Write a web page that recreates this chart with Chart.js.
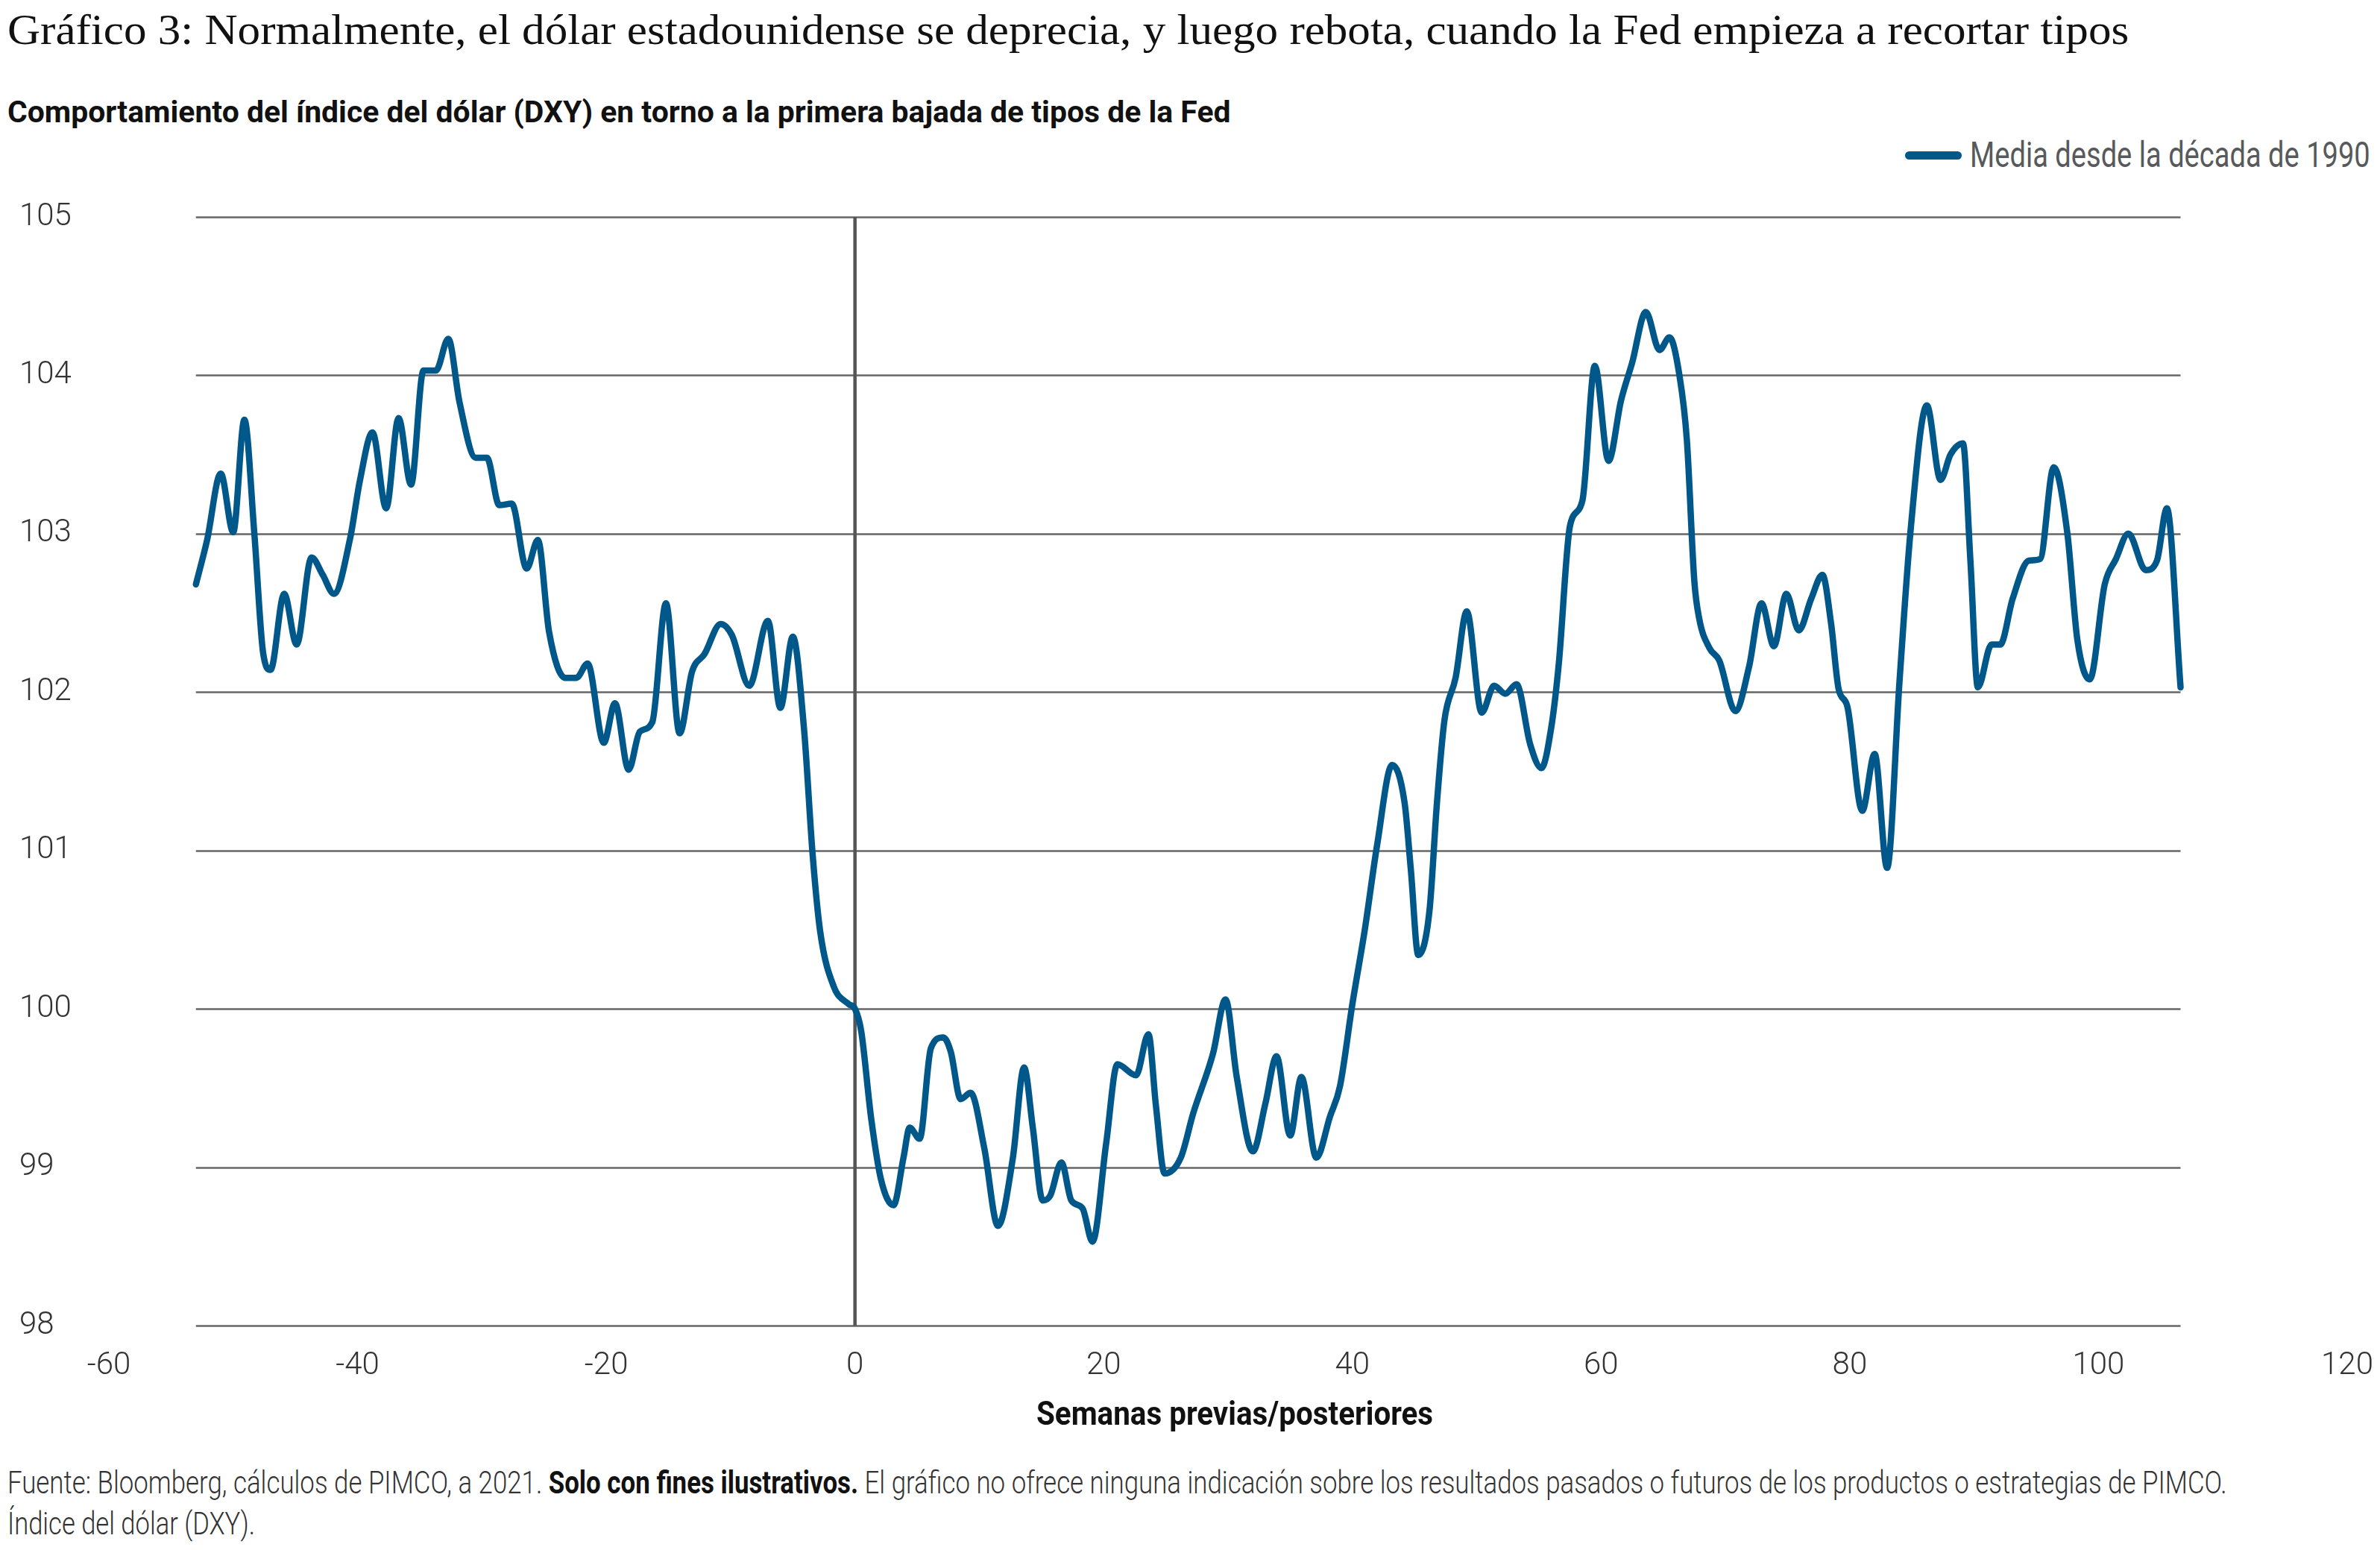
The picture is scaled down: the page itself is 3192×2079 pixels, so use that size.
<!DOCTYPE html>
<html>
<head>
<meta charset="utf-8">
<script src="https://cdn.jsdelivr.net/npm/chart.js@4.4.1/dist/chart.umd.min.js"></script>
<style>
  html, body { margin: 0; padding: 0; background: #fff; }
  #page { position: relative; width: 3192px; height: 2079px; overflow: hidden; }
  .txt { position: absolute; white-space: nowrap; transform-origin: left center; }
  #title { left: 10px; top: 8px; font: 400 56px/64px "Liberation Serif", serif; color: #111; }
  #subtitle { left: 10px; top: 127px; font: 700 40px/48px Roboto, sans-serif; color: #111; }
  #legendLine { position: absolute; left: 2555px; top: 203px; width: 76px; height: 11px; border-radius: 6px; background: #00578a; }
  #legendText { left: 2642px; top: 180px; font: 400 48px/56px Roboto, sans-serif; color: #58595b; }
  #xtitle { top: 1870px; font: 700 44px/52px Roboto, sans-serif; color: #111; transform-origin: center center; }
  #foot1 { left: 10px; top: 1964px; font: 300 42px/50px Roboto, sans-serif; color: #333; }
  #foot2 { left: 10px; top: 2019px; font: 300 42px/50px Roboto, sans-serif; color: #333; }
  #foot1 b { font-weight: 700; color: #111; }
  #chartBox { position: absolute; left: 0; top: 240px; width: 3192px; height: 1640px; }
</style>
</head>
<body>
<div id="page">
  <div id="title" class="txt">Gráfico 3: Normalmente, el dólar estadounidense se deprecia, y luego rebota, cuando la Fed empieza a recortar tipos</div>
  <div id="subtitle" class="txt">Comportamiento del índice del dólar (DXY) en torno a la primera bajada de tipos de la Fed</div>
  <div id="legendLine"></div>
  <div id="legendText" class="txt">Media desde la década de 1990</div>
  <div id="chartBox"><canvas id="chart" width="3192" height="1640"></canvas></div>
  <div id="xtitle" class="txt">Semanas previas/posteriores</div>
  <div id="foot1" class="txt">Fuente: Bloomberg, cálculos de PIMCO, a 2021. <b>Solo con fines ilustrativos.</b> El gráfico no ofrece ninguna indicación sobre los resultados pasados o futuros de los productos o estrategias de PIMCO.</div>
  <div id="foot2" class="txt">Índice del dólar (DXY).</div>
</div>
<script>
// weeks before/after the first Fed cut, and the average DXY level
const weeks = [
  -53.0, -52.1, -51.0, -50.0, -49.1, -48.3, -47.6, -47.0, -45.9, -44.9,
  -43.7, -42.8, -41.9, -40.6, -39.8, -38.8, -37.7, -36.7, -35.7, -34.7,
  -33.7, -32.7, -31.8, -30.5, -29.6, -28.6, -27.6, -26.4, -25.5, -24.6,
  -23.3, -22.4, -21.5, -20.2, -19.3, -18.2, -17.3, -16.3, -15.2, -14.1,
  -13.1, -12.1, -10.8, -9.9, -8.5, -7.0, -6.0, -5.0, -4.1, -3.4,
  -2.8, -1.7, -0.5, 0.0, 0.5, 1.3, 2.1, 3.1, 3.9, 4.4,
  5.2, 6.1, 7.1, 7.7, 8.5, 9.3, 10.4, 11.5, 12.7, 13.6,
  14.3, 15.1, 15.7, 16.6, 17.4, 18.3, 19.1, 20.2, 21.1, 22.6,
  23.6, 24.2, 24.9, 26.2, 27.2, 28.8, 29.8, 30.7, 32.0, 33.0,
  33.9, 35.0, 35.9, 37.1, 38.2, 39.0, 40.0, 41.0, 42.0, 43.2,
  44.2, 44.7, 45.3, 46.2, 46.8, 47.4, 48.3, 49.2, 50.4, 51.4,
  52.3, 53.2, 54.3, 55.2, 56.0, 56.6, 57.5, 58.5, 59.5, 60.6,
  61.6, 62.5, 63.6, 64.7, 65.5, 66.3, 66.9, 67.5, 67.9, 68.7,
  69.5, 70.8, 71.9, 72.9, 73.9, 74.9, 75.9, 76.9, 77.8, 78.5,
  79.1, 79.8, 81.0, 82.0, 83.0, 84.0, 84.9, 86.2, 87.3, 88.1,
  89.1, 89.7, 90.3, 91.4, 92.1, 93.1, 94.4, 95.3, 96.4, 97.5,
  98.3, 99.3, 100.5, 101.4, 102.4, 103.8, 104.7, 105.5, 106.6
];
const dxy = [
  102.68, 102.96, 103.38, 103.01, 103.72, 103.00, 102.25, 102.14, 102.62, 102.30,
  102.85, 102.74, 102.62, 102.97, 103.34, 103.64, 103.16, 103.73, 103.31, 104.03,
  104.03, 104.23, 103.83, 103.48, 103.48, 103.18, 103.19, 102.78, 102.96, 102.38,
  102.09, 102.09, 102.18, 101.68, 101.93, 101.51, 101.75, 101.81, 102.56, 101.74,
  102.13, 102.24, 102.43, 102.36, 102.04, 102.45, 101.90, 102.35, 101.77, 100.97,
  100.49, 100.14, 100.03, 100.00, 99.86, 99.31, 98.92, 98.76, 99.06, 99.25,
  99.18, 99.75, 99.82, 99.73, 99.43, 99.47, 99.12, 98.63, 99.06, 99.63,
  99.25, 98.79, 98.82, 99.03, 98.79, 98.74, 98.53, 99.15, 99.65, 99.58,
  99.84, 99.39, 98.96, 99.06, 99.34, 99.72, 100.06, 99.57, 99.10, 99.40,
  99.70, 99.20, 99.57, 99.06, 99.32, 99.51, 100.03, 100.50, 101.04, 101.54,
  101.30, 100.88, 100.34, 100.62, 101.30, 101.82, 102.09, 102.51, 101.87, 102.04,
  101.99, 102.05, 101.67, 101.52, 101.78, 102.18, 103.05, 103.21, 104.06, 103.46,
  103.84, 104.08, 104.40, 104.16, 104.24, 104.00, 103.59, 102.70, 102.46, 102.28,
  102.20, 101.88, 102.16, 102.56, 102.29, 102.62, 102.39, 102.59, 102.74, 102.43,
  102.02, 101.91, 101.25, 101.61, 100.89, 102.07, 103.03, 103.81, 103.34, 103.50,
  103.57, 102.83, 102.03, 102.30, 102.30, 102.59, 102.83, 102.84, 103.42, 103.00,
  102.33, 102.08, 102.68, 102.84, 103.00, 102.77, 102.83, 103.16, 102.03
];
const seriesLabel = "Media desde la década de 1990";
const lineColor = "#00578a";

// stretch/squeeze a text block to the width it has in the original
function fitWidth(id, target) {
  const el = document.getElementById(id);
  const w = el.scrollWidth;
  el.style.transform = `scaleX(${target / w})`;
}
fitWidth("title", 2845);
fitWidth("subtitle", 1640);
fitWidth("legendText", 537);
fitWidth("foot1", 2977);
fitWidth("foot2", 332);
(function () {
  const el = document.getElementById("xtitle");
  const w = el.scrollWidth;
  el.style.left = (1656 - w / 2) + "px";
  el.style.transform = `scaleX(${532 / w})`;
})();

// horizontal gridlines only across the data range, plus the x = 0 marker
const gridPlugin = {
  id: "dataGrid",
  beforeDatasetsDraw(chart) {
    const { ctx, scales } = chart;
    const x = scales.x, y = scales.y;
    const x0 = x.getPixelForValue(weeks[0]);
    const x1 = x.getPixelForValue(weeks[weeks.length - 1]);
    ctx.save();
    ctx.strokeStyle = "#666";
    ctx.lineWidth = 2.5;
    y.ticks.forEach((t) => {
      const py = Math.round(y.getPixelForValue(t.value)) + 0.5;
      ctx.beginPath();
      ctx.moveTo(x0, py);
      ctx.lineTo(x1, py);
      ctx.stroke();
    });
    const zx = x.getPixelForValue(0);
    ctx.strokeStyle = "#555";
    ctx.lineWidth = 4.5;
    ctx.beginPath();
    ctx.moveTo(zx, y.getPixelForValue(105));
    ctx.lineTo(zx, y.getPixelForValue(98));
    ctx.stroke();
    ctx.restore();
  },
};

const points = weeks.map((w, i) => ({ x: w, y: dxy[i] }));

new Chart(document.getElementById("chart"), {
  type: "line",
  data: {
    datasets: [
      {
        label: seriesLabel,
        data: points,
        borderColor: lineColor,
        borderWidth: 8.5,
        pointRadius: 0,
        cubicInterpolationMode: "monotone",
        borderCapStyle: "round",
        borderJoinStyle: "round",
        fill: false,
      },
    ],
  },
  options: {
    responsive: false,
    animation: false,
    devicePixelRatio: 1,
    layout: { padding: { left: 26, right: 44, top: 51, bottom: 18 } },
    plugins: { legend: { display: false }, tooltip: { enabled: false } },
    scales: {
      x: {
        type: "linear",
        min: -60,
        max: 120,
        ticks: {
          stepSize: 20,
          padding: 29,
          color: "#333",
          font: { family: "Roboto", size: 42, weight: 300 },
          maxRotation: 0,
        },
        grid: { display: false, drawTicks: false },
        border: { display: false },
        afterFit(scale) {
          scale.height = 84;
          scale.paddingLeft = 0;
          scale.paddingRight = 0;
        },
      },
      y: {
        min: 98,
        max: 105,
        ticks: {
          stepSize: 1,
          crossAlign: "far",
          color: "#333",
          font: { family: "Roboto", size: 42, weight: 300 },
        },
        grid: { display: false, drawTicks: false },
        border: { display: false },
        afterFit(scale) { scale.width = 120; },
      },
    },
  },
  plugins: [gridPlugin],
});
</script>
</body>
</html>
